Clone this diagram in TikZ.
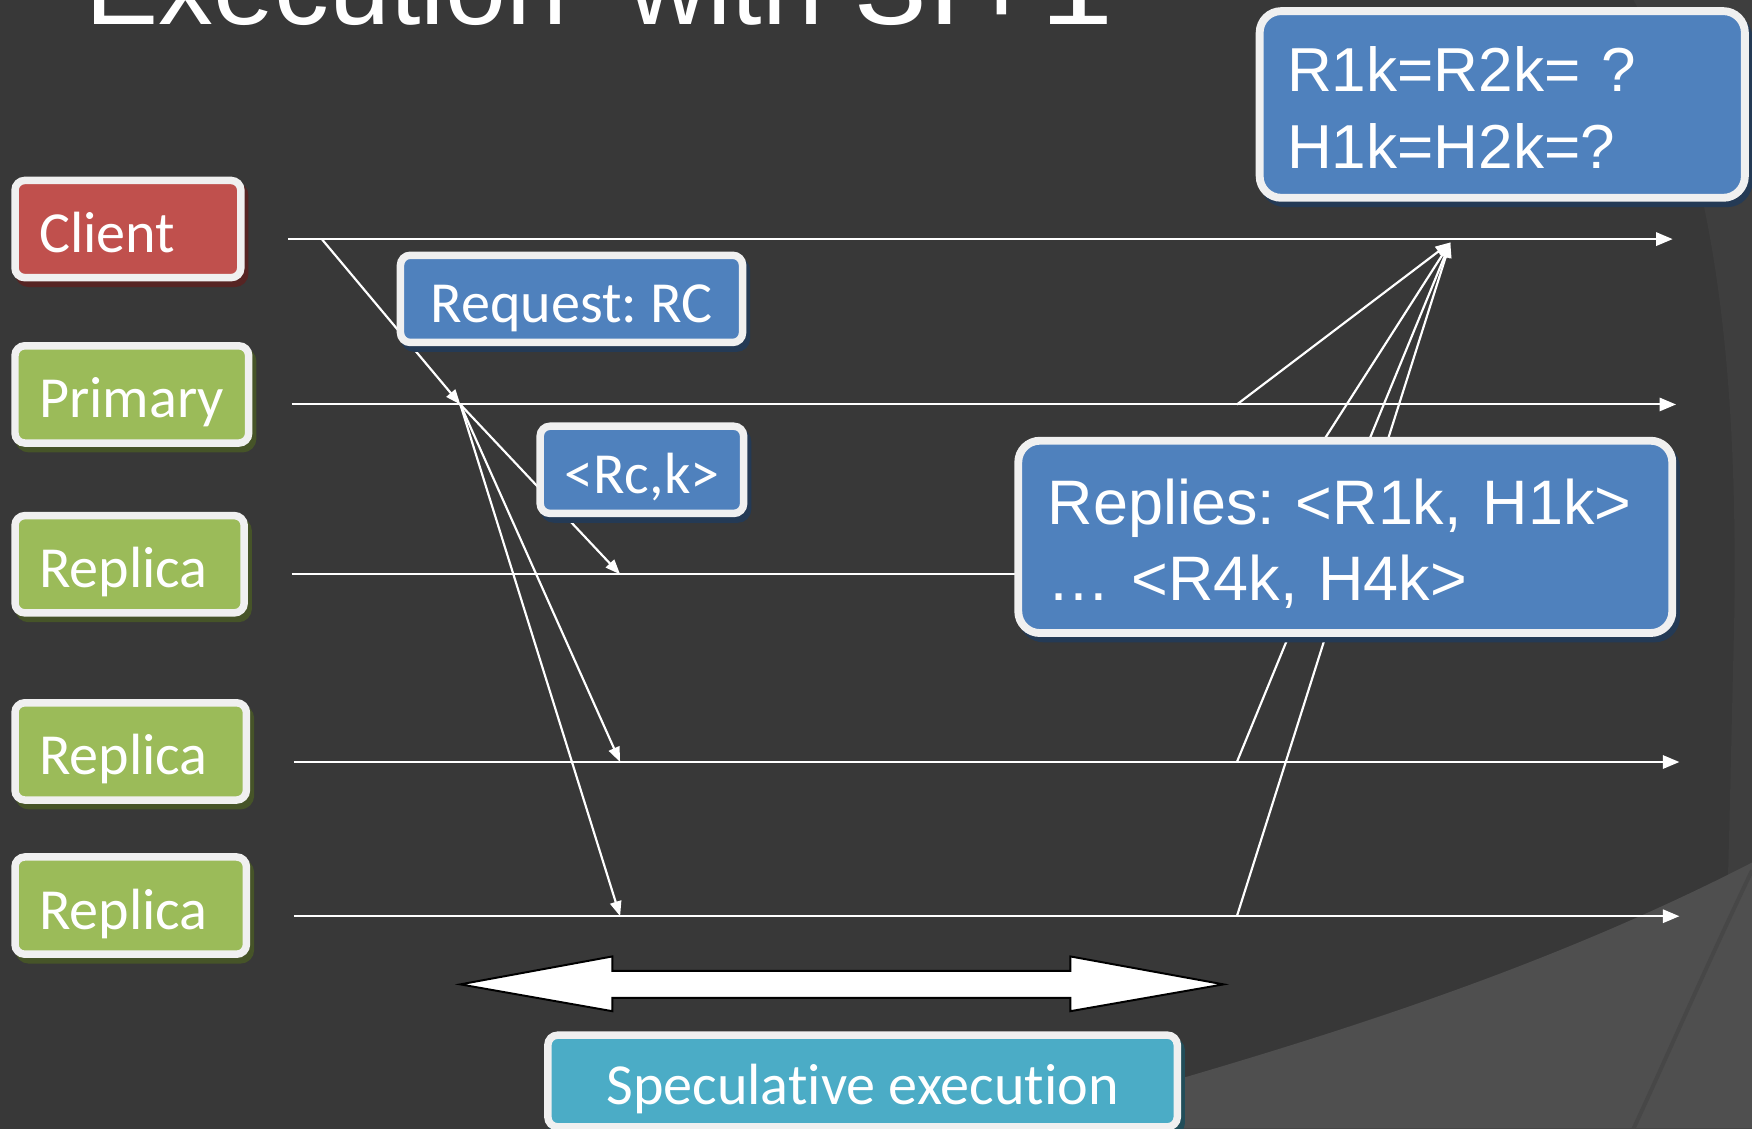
\documentclass[tikz,border=0pt]{standalone}
\usepackage{fontspec}
\setmainfont{Carlito}[Ligatures=NoCommon]
\newfontfamily\arialfont{Liberation Sans}
\usetikzlibrary{arrows.meta}
\definecolor{bgc}{HTML}{383838}
\definecolor{bgmid}{HTML}{3E3E3E}
\definecolor{bglight}{HTML}{4F4F4F}
\definecolor{seam}{HTML}{474747}
\definecolor{edge}{HTML}{F0F0F0}
\definecolor{clientred}{HTML}{C0504D}
\definecolor{olive}{HTML}{9BBB59}
\definecolor{msgblue}{HTML}{4F81BD}
\definecolor{aqua}{HTML}{4BACC6}
\frenchspacing
\begin{document}
\begin{tikzpicture}[x=0.01cm,y=-0.01cm,
  tl/.style={white, line width=0.5pt, -{Triangle[length=4.2pt,width=3.4pt]}},
  msg/.style={white, line width=0.55pt, -{Triangle[length=3.8pt,width=2.9pt]}},
  shadowed/.style={preaction={draw=#1!45!black, fill=#1!45!black, line width=1.9pt,
      transform canvas={shift={(0.035cm,-0.05cm)}}}},
  box/.style={draw=edge, fill=#1, line width=1.9pt, rounded corners=2.5pt, text=white,
      shadowed=#1, font=\fontsize{14.8}{17.8}\selectfont, inner sep=0pt},
  lane/.style={box=#1, align=left, inner xsep=0.215cm, minimum height=0.87cm,
      text height=12pt, text depth=0pt},
  tag/.style={box=#1, align=center, text height=12pt, text depth=0pt},
  bigbox/.style={draw=edge, fill=msgblue, line width=2pt, rounded corners=5.5pt, text=white,
      shadowed=msgblue, align=left, inner ysep=0pt},
]
\useasboundingbox (0,0) rectangle (1568,1010);
\clip (0,0) rectangle (1568,1010);

% background panels
\fill[bgc] (0,0) rectangle (1568,1010);
\fill[bgmid] (1462,0) .. controls (1535,140) and (1556,330) .. (1552,560)
  .. controls (1549,680) and (1548,740) .. (1546,800) -- (1568,800) -- (1568,0) -- cycle;
\fill[bglight] (900,1010) .. controls (1120,948) and (1350,884) .. (1568,772)
  -- (1568,1010) -- cycle;
\draw[line width=1pt, seam] (1568,779) .. controls (1520,880) and (1490,950) .. (1462,1010);

% title
\node[anchor=base west, text=white, inner sep=0pt,
  font=\arialfont\fontsize{27.9}{30}\selectfont] (title) at (76,21.5)
  {Execution\hspace{0.55cm}with \scalebox{1.2}[1]{3f+1}};

% time lines
\coordinate (cl0) at (258,214);  \coordinate (cl1) at (1497,214);
\coordinate (pr0) at (261,362);  \coordinate (pr1) at (1500,362);
\coordinate (ra0) at (261,514);  \coordinate (ra1) at (1500,514);
\coordinate (rb0) at (263,682);  \coordinate (rb1) at (1503,682);
\coordinate (rc0) at (263,820);  \coordinate (rc1) at (1503,820);
\foreach \a/\b in {cl0/cl1, pr0/pr1, ra0/ra1, rb0/rb1, rc0/rc1}
  \draw[tl] (\a) -- (\b);

% request and pre-prepare messages
\coordinate (send) at (288,214);
\coordinate (prin) at (412,362);
\coordinate (rain) at (555,514);
\coordinate (rbin) at (555,682);
\coordinate (rcin) at (555,820);
\draw[msg] (send) -- (prin);
\draw[msg] (prin) -- (rain);
\draw[msg] (prin) -- (rbin);
\draw[msg] (prin) -- (rcin);

% replies back to the client
\coordinate (prout) at (1107,362);
\coordinate (raout) at (1108,514);
\coordinate (rbout) at (1107,682);
\coordinate (rcout) at (1107,820);
\coordinate (clin) at (1298,217);
\foreach \s in {prout, raout, rbout, rcout}
  \draw[msg] (\s) -- (clin);

% participants
\node[lane=clientred, text width=1.59cm] (client) at (114.5,205) {Client};
\node[lane=olive, text width=1.66cm] (primary) at (118,353) {Primary};
\node[lane=olive, text width=1.62cm] (replicaA) at (116,505) {Replica};
\node[lane=olive, text width=1.64cm] (replicaB) at (117,672.5) {Replica};
\node[lane=olive, text width=1.64cm] (replicaC) at (117,810.5) {Replica};

% message labels
\node[tag=msgblue, minimum width=3.06cm, minimum height=0.78cm] (request) at (511.5,267.5) {Request: RC};
\node[tag=msgblue, minimum width=1.82cm, minimum height=0.78cm] (order) at (574.5,420.5) {<Rc,k>};
\node[bigbox, minimum width=4.34cm, minimum height=1.67cm, inner xsep=0.245cm, text width=3.85cm,
  font=\arialfont\fontsize{15.8}{19.6}\selectfont] (check) at (1344.5,93.5)
  {\rule{0pt}{13.2pt}R1k=R2k= ?\\H1k=H2k=?};
\node[bigbox, minimum width=5.85cm, minimum height=1.72cm, inner xsep=0.265cm, text width=5.32cm,
  font=\arialfont\fontsize{16}{19.3}\selectfont] (replies) at (1204,480.5)
  {\rule{0pt}{15pt}Replies: <R1k, H1k>\\… <R4k, H4k>};

% speculative execution span
\draw[fill=white, draw=black, line width=0.5pt]
  (412,881) -- (548,856) -- (548,869) -- (958,869) -- (958,856) -- (1095,881)
  -- (958,905) -- (958,893) -- (548,893) -- (548,905) -- cycle;
\node[tag=aqua, minimum width=5.63cm, minimum height=0.82cm] (spec) at (772,967.5) {Speculative execution};
\end{tikzpicture}
\end{document}
